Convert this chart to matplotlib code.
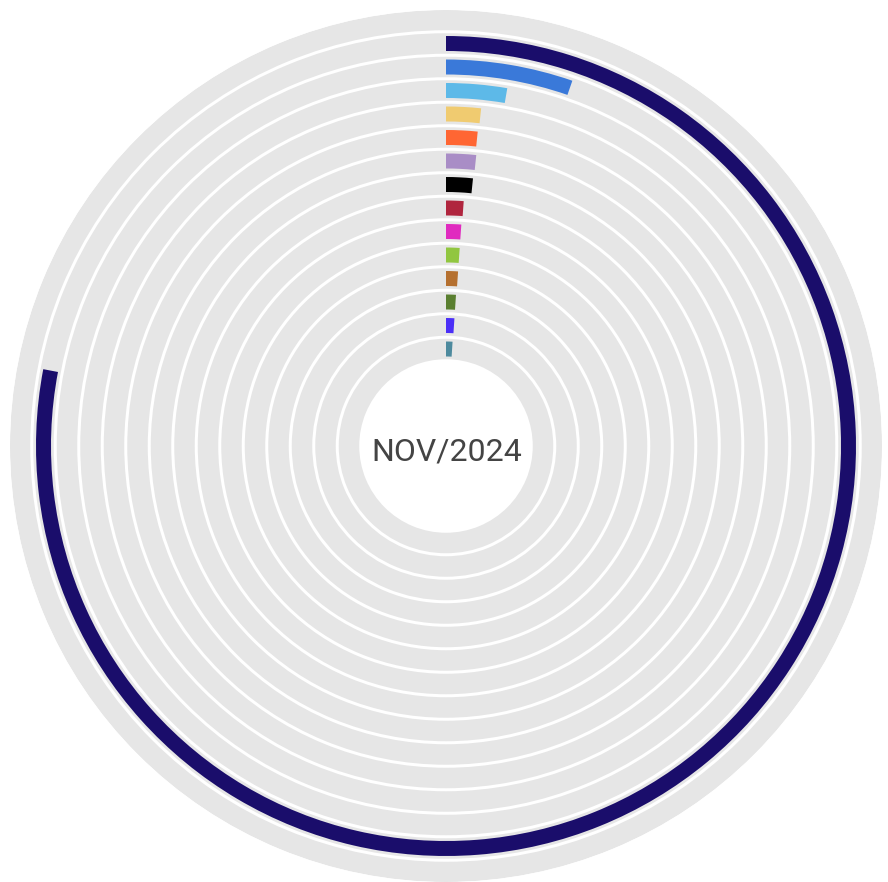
import numpy as np
import matplotlib
matplotlib.use("Agg")
import matplotlib.pyplot as plt

# share of the month (percent of full circle), outermost ring first
categories = ["c01", "c02", "c03", "c04", "c05", "c06", "c07",
              "c08", "c09", "c10", "c11", "c12", "c13", "c14"]
values = [78.0, 5.3, 2.7, 1.65, 1.6, 1.65, 1.6,
          1.15, 1.1, 1.1, 1.1, 1.05, 1.05, 1.0]
colors = ["#1a0d6b", "#3a79d9", "#5db9e8", "#f0cb70", "#ff6633", "#a98dc6", "#000000",
          "#b0253e", "#e02bbf", "#91c640", "#b5702f", "#5a7f30", "#4b2ff7", "#4d8a9e"]
center_label = "NOV/2024"

W, H = 888, 882
fig = plt.figure(figsize=(W / 100, H / 100), dpi=100)
fig.patch.set_facecolor("white")

# polar axes sized in pixels so radial units == pixels
R_OUT = 436
cx, cy = 446, 446
ax = fig.add_axes([(cx - R_OUT) / W, (H - cy - R_OUT) / H, 2 * R_OUT / W, 2 * R_OUT / H],
                  projection="polar")
ax.set_theta_zero_location("N")
ax.set_theta_direction(-1)
ax.set_ylim(0, R_OUT)
ax.axis("off")

gray = "#e6e6e6"
pitch = 23.5
r0 = 402.5          # center radius of outermost ring
track_w = 20.5
bar_w = 15

# outer border ring
ring_in = r0 + pitch / 2 + 1.5
ax.bar(0, R_OUT - ring_in, width=2 * np.pi, bottom=ring_in,
       color=gray, linewidth=0, align="edge")

for i, (v, c) in enumerate(zip(values, colors)):
    r = r0 - i * pitch
    ax.bar(0, track_w, width=2 * np.pi, bottom=r - track_w / 2,
           color=gray, linewidth=0, align="edge")
    ax.bar(0, bar_w, width=v / 100 * 2 * np.pi, bottom=r - bar_w / 2,
           color=c, linewidth=0, align="edge")

fig.text(447 / W, 1 - 452 / H, center_label, ha="center", va="center",
         fontsize=23, color="#444444", family=["Roboto", "DejaVu Sans"])

fig.savefig("out.png", dpi=100, facecolor="white")
